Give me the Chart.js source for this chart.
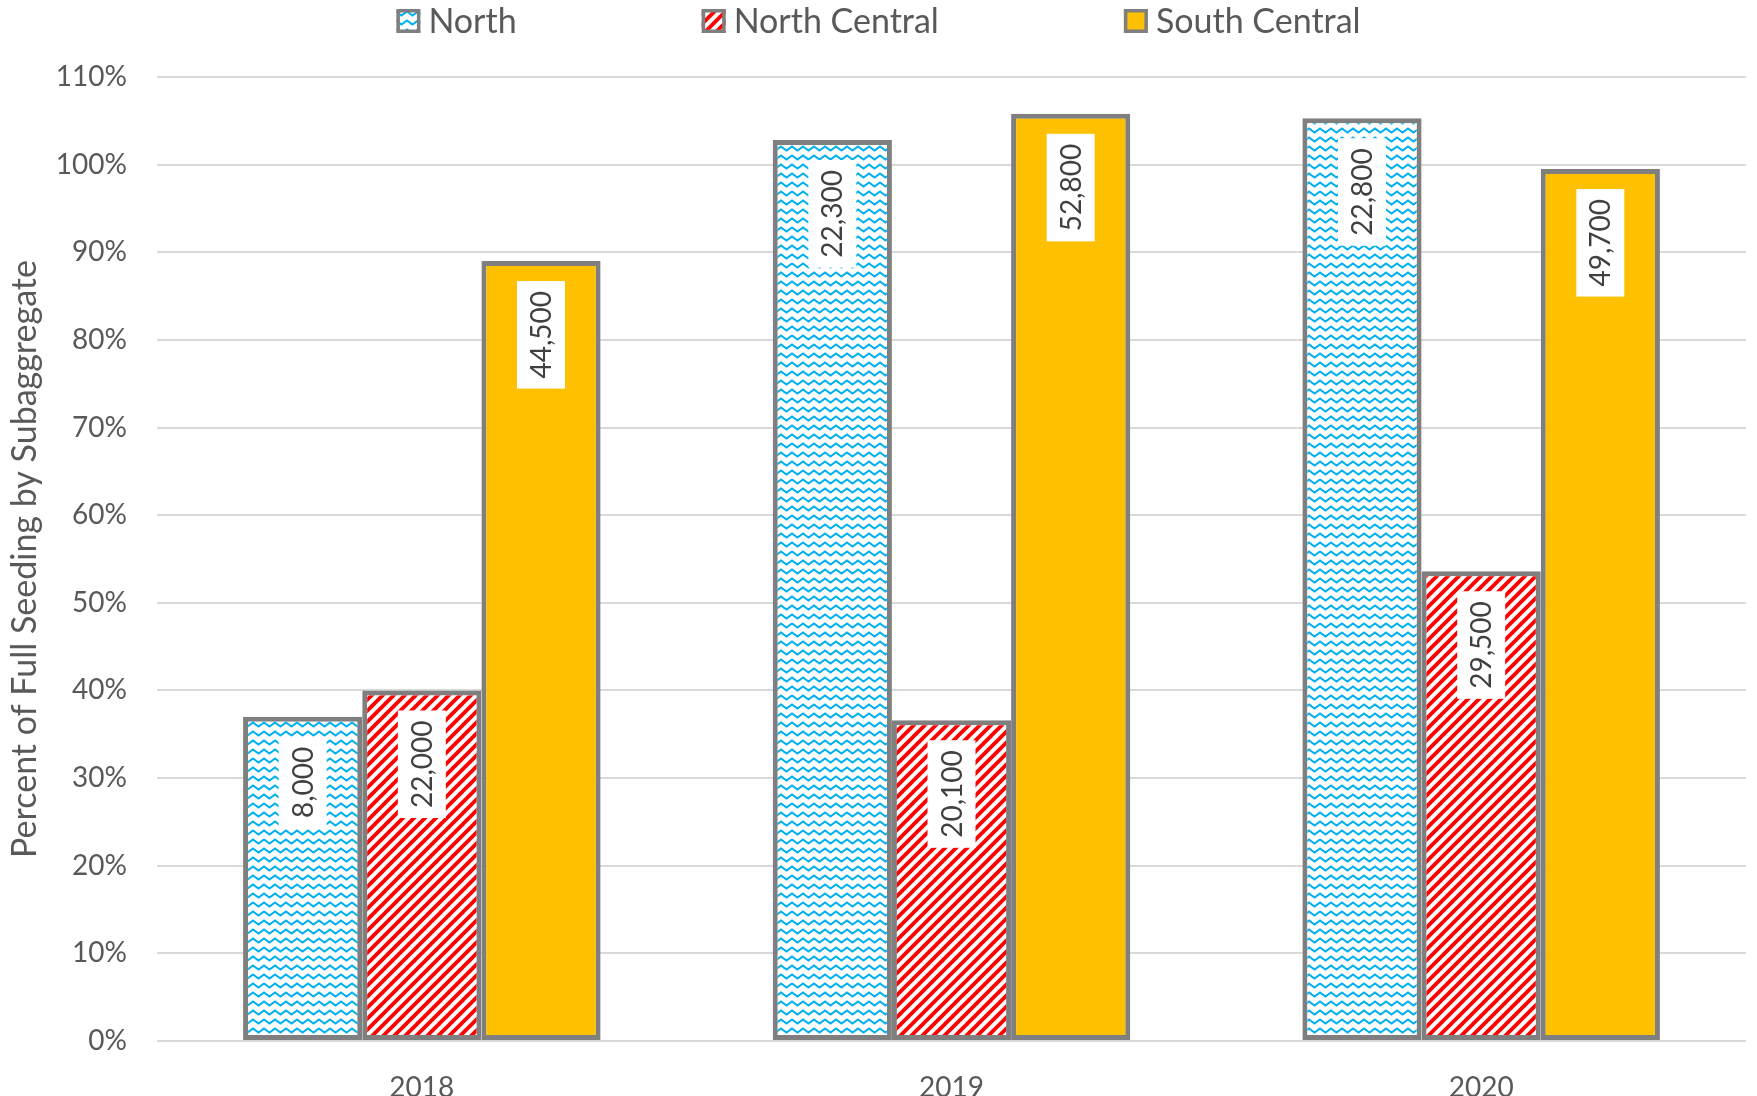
<!DOCTYPE html>
<html>
<head>
<meta charset="utf-8">
<title>Percent of Full Seeding by Subaggregate</title>
<script src="https://cdn.jsdelivr.net/npm/chart.js@4.4.1/dist/chart.umd.min.js"></script>
<style>
    html, body { margin: 0; padding: 0; background: #fff; }
    canvas { display: block; }
</style>
</head>
<body>
<canvas id="chart" width="1757" height="1096"></canvas>
<script>
// Years on the x axis
const years = ['2018', '2019', '2020'];

// Percent of full seeding (bar heights)
const northPct = [37.0, 102.8, 105.3];
const northCentralPct = [40.0, 36.6, 53.6];
const southCentralPct = [89.0, 105.8, 99.5];

// Seeded amounts shown inside the bars
const northAmount = [8000, 22300, 22800];
const northCentralAmount = [22000, 20100, 29500];
const southCentralAmount = [44500, 52800, 49700];

const yMax = 110;
const yStep = 10;

const TEXT = '#595959';
const BORDER = '#7f7f7f';
const FONT = 'Lato';

Chart.defaults.font.family = FONT;
Chart.defaults.color = TEXT;

// Excel-like fill patterns
function wavePattern(color) {
    const w = 11, h = 9;
    const c = document.createElement('canvas');
    c.width = w;
    c.height = h;
    const x = c.getContext('2d');
    x.fillStyle = '#fff';
    x.fillRect(0, 0, w, h);
    x.strokeStyle = color;
    x.lineWidth = 2;
    x.beginPath();
    x.moveTo(-w / 2, 6.5);
    x.lineTo(0, 2.5);
    x.lineTo(w / 2, 6.5);
    x.lineTo(w, 2.5);
    x.lineTo(w * 1.5, 6.5);
    x.stroke();
    return x.createPattern(c, 'repeat');
}

function stripePattern(color) {
    const s = 11;
    const c = document.createElement('canvas');
    c.width = s;
    c.height = s;
    const x = c.getContext('2d');
    x.fillStyle = '#fff';
    x.fillRect(0, 0, s, s);
    x.strokeStyle = color;
    x.lineWidth = 3.8;
    x.beginPath();
    x.moveTo(-1, s + 1);
    x.lineTo(s + 1, -1);
    x.moveTo(-s / 2 - 1, s / 2 + 1);
    x.lineTo(s / 2 + 1, -s / 2 - 1);
    x.moveTo(s / 2 - 1, s * 1.5 + 1);
    x.lineTo(s * 1.5 + 1, s / 2 - 1);
    x.stroke();
    return x.createPattern(c, 'repeat');
}

const fmt = (n) => n.toLocaleString('en-US');

// Rotated value labels near the top of each bar
const valueLabels = {
    id: 'valueLabels',
    afterDatasetsDraw(chart) {
        const ctx = chart.ctx;
        ctx.save();
        ctx.font = `28px ${FONT}`;
        ctx.textAlign = 'center';
        ctx.textBaseline = 'middle';
        chart.data.datasets.forEach((ds, di) => {
            const meta = chart.getDatasetMeta(di);
            meta.data.forEach((bar, i) => {
                const txt = fmt(ds.amounts[i]);
                const len = ctx.measureText(txt).width + 20;
                ctx.save();
                ctx.translate(bar.x, bar.y + 20 + len / 2);
                ctx.rotate(-Math.PI / 2);
                ctx.fillStyle = '#fff';
                ctx.fillRect(-len / 2, -24, len, 48);
                ctx.fillStyle = '#404040';
                ctx.fillText(txt, 0, 1);
                ctx.restore();
            });
        });
        ctx.restore();
    },
};

// Legend drawn across the top
const topLegend = {
    id: 'topLegend',
    afterDraw(chart) {
        const ctx = chart.ctx;
        const box = 24;
        const gap = 8;
        const spacing = 185;
        const cy = 21;
        ctx.save();
        ctx.font = `34px ${FONT}`;
        ctx.textBaseline = 'middle';
        const items = chart.data.datasets.map((ds) => ({ ds, w: ctx.measureText(ds.label).width }));
        const total = items.reduce((a, it) => a + box + gap + it.w, 0) + spacing * (items.length - 1);
        let x = (chart.width - total) / 2;
        items.forEach((it) => {
            ctx.fillStyle = it.ds.backgroundColor;
            ctx.fillRect(x, cy - box / 2, box, box);
            ctx.strokeStyle = BORDER;
            ctx.lineWidth = 3.5;
            ctx.strokeRect(x + 1.75, cy - box / 2 + 1.75, box - 3.5, box - 3.5);
            ctx.fillStyle = TEXT;
            ctx.fillText(it.ds.label, x + box + gap, cy + 1);
            x += box + gap + it.w + spacing;
        });
        ctx.restore();
    },
};

const common = {
    borderColor: BORDER,
    borderWidth: 5,
    borderSkipped: false,
    barPercentage: 1,
    categoryPercentage: 0.675,
};

new Chart(document.getElementById('chart'), {
    type: 'bar',
    data: {
        labels: years,
        datasets: [
            { label: 'North', data: northPct, amounts: northAmount, backgroundColor: wavePattern('#00b0f0'), ...common },
            { label: 'North Central', data: northCentralPct, amounts: northCentralAmount, backgroundColor: stripePattern('#ff0000'), ...common },
            { label: 'South Central', data: southCentralPct, amounts: southCentralAmount, backgroundColor: '#ffc000', ...common },
        ],
    },
    options: {
        responsive: false,
        animation: false,
        layout: { padding: { top: 77, right: 11, left: 0, bottom: 0 } },
        plugins: {
            legend: { display: false },
            tooltip: { enabled: false },
        },
        scales: {
            x: {
                grid: { display: false },
                border: { display: false },
                ticks: { font: { size: 28 }, color: TEXT, padding: 22 },
                afterFit: (s) => { s.height = 55; },
            },
            y: {
                min: 0,
                max: yMax,
                border: { display: false },
                grid: { color: '#d9d9d9', lineWidth: 2, drawTicks: false },
                ticks: {
                    stepSize: yStep,
                    padding: 30,
                    font: { size: 28 },
                    color: TEXT,
                    callback: (v) => v + '%',
                },
                title: {
                    display: true,
                    text: 'Percent of Full Seeding by Subaggregate',
                    font: { size: 34 },
                    color: TEXT,
                    padding: { top: 5, bottom: 0 },
                },
                afterFit: (s) => { s.width = 157; },
            },
        },
    },
    plugins: [valueLabels, topLegend],
});
</script>
</body>
</html>
